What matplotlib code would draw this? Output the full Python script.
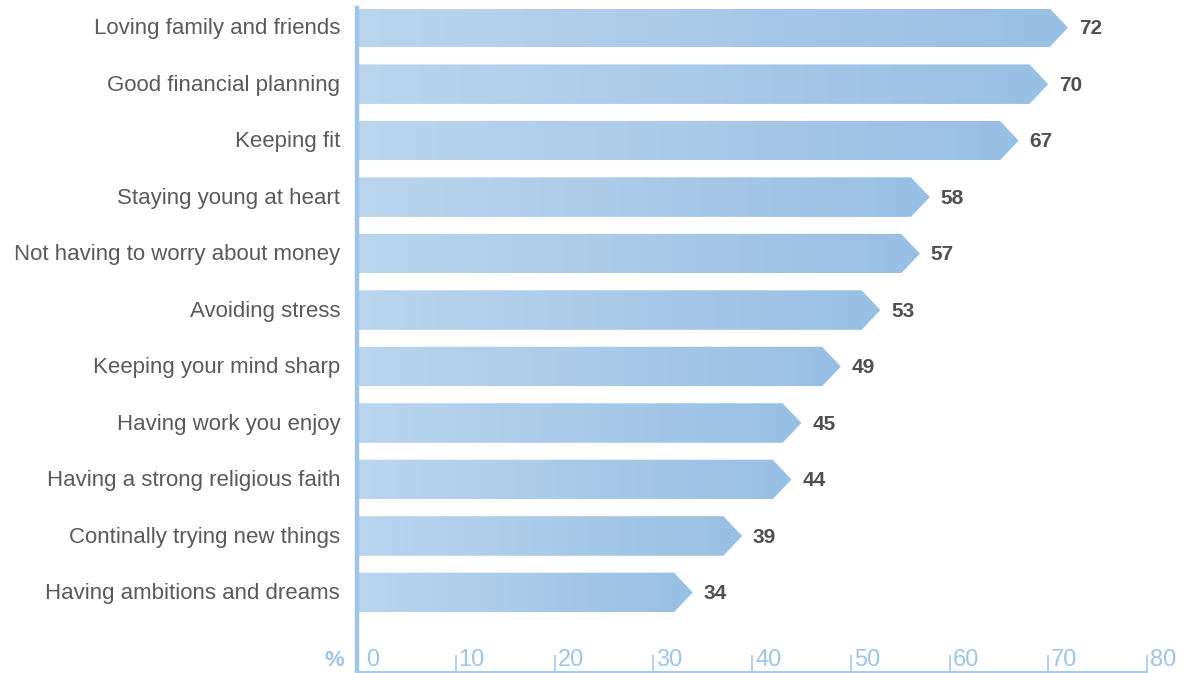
import matplotlib.pyplot as plt
import numpy as np
import matplotlib.transforms as mtransforms
from matplotlib.patches import Polygon
from matplotlib.colors import LinearSegmentedColormap

categories = [
    "Loving family and friends",
    "Good financial planning",
    "Keeping fit",
    "Staying young at heart",
    "Not having to worry about money",
    "Avoiding stress",
    "Keeping your mind sharp",
    "Having work you enjoy",
    "Having a strong religious faith",
    "Continally trying new things",
    "Having ambitions and dreams",
]
values = [72, 70, 67, 58, 57, 53, 49, 45, 44, 39, 34]
xticks = [0, 10, 20, 30, 40, 50, 60, 70, 80]

W, H = 1196, 673
blue = "#9fc4e8"
text_grey = "#5a5a5a"

plt.rcParams['font.family'] = ['Liberation Sans', 'DejaVu Sans']

fig = plt.figure(figsize=(W / 100, H / 100), dpi=100)
ax = fig.add_axes([357 / W, 1.5 / H, (1147 - 357) / W, (672 - 9) / H])

cmap = LinearSegmentedColormap.from_list("bar", ["#bad5ee", "#98bfe4"])
grad = np.linspace(0, 1, 256).reshape(1, -1)
head = 1.9
h = 0.70

for i, (v, c) in enumerate(zip(values, categories)):
    pts = [(0, i - h / 2), (v - head, i - h / 2), (v, i),
           (v - head, i + h / 2), (0, i + h / 2)]
    poly = Polygon(pts, closed=True, facecolor="none", edgecolor="none")
    ax.add_patch(poly)
    im = ax.imshow(grad, cmap=cmap, aspect="auto",
                   extent=(0, v, i + h / 2, i - h / 2), interpolation="bicubic")
    im.set_clip_path(poly)
    ax.text(v + 1.1, i + 0.02, str(v), ha="left", va="center", fontsize=15,
            fontweight="bold", color="#505050")
    ax.text(-1.7, i + 0.02, c, ha="right", va="center", fontsize=16,
            color=text_grey)

ax.set_xlim(0, 80)
ax.set_ylim(11.4, -0.34)

for s in ["top", "right"]:
    ax.spines[s].set_visible(False)
ax.spines["left"].set_color(blue)
ax.spines["left"].set_linewidth(3.2)
ax.spines["bottom"].set_color("#a8cbea")
ax.spines["bottom"].set_linewidth(1.5)

ax.set_xticks(xticks)
ax.set_yticks([])
ax.tick_params(axis="x", direction="in", length=12, width=1.2,
               color="#a8cbea", labelbottom=False)

trans = mtransforms.blended_transform_factory(ax.transData, ax.transAxes)
for t in xticks:
    dx = 9 if t == 0 else 3
    off = mtransforms.offset_copy(trans, fig=fig, x=dx, y=1, units="dots")
    ax.text(t, 0, str(t), transform=off, ha="left", va="bottom",
            fontsize=17, color=blue)
off = mtransforms.offset_copy(trans, fig=fig, x=-13, y=1, units="dots")
ax.text(0, 0, "%", transform=off, ha="right", va="bottom", fontsize=16,
        fontweight="bold", color=blue)

fig.savefig("out.png", dpi=100)
